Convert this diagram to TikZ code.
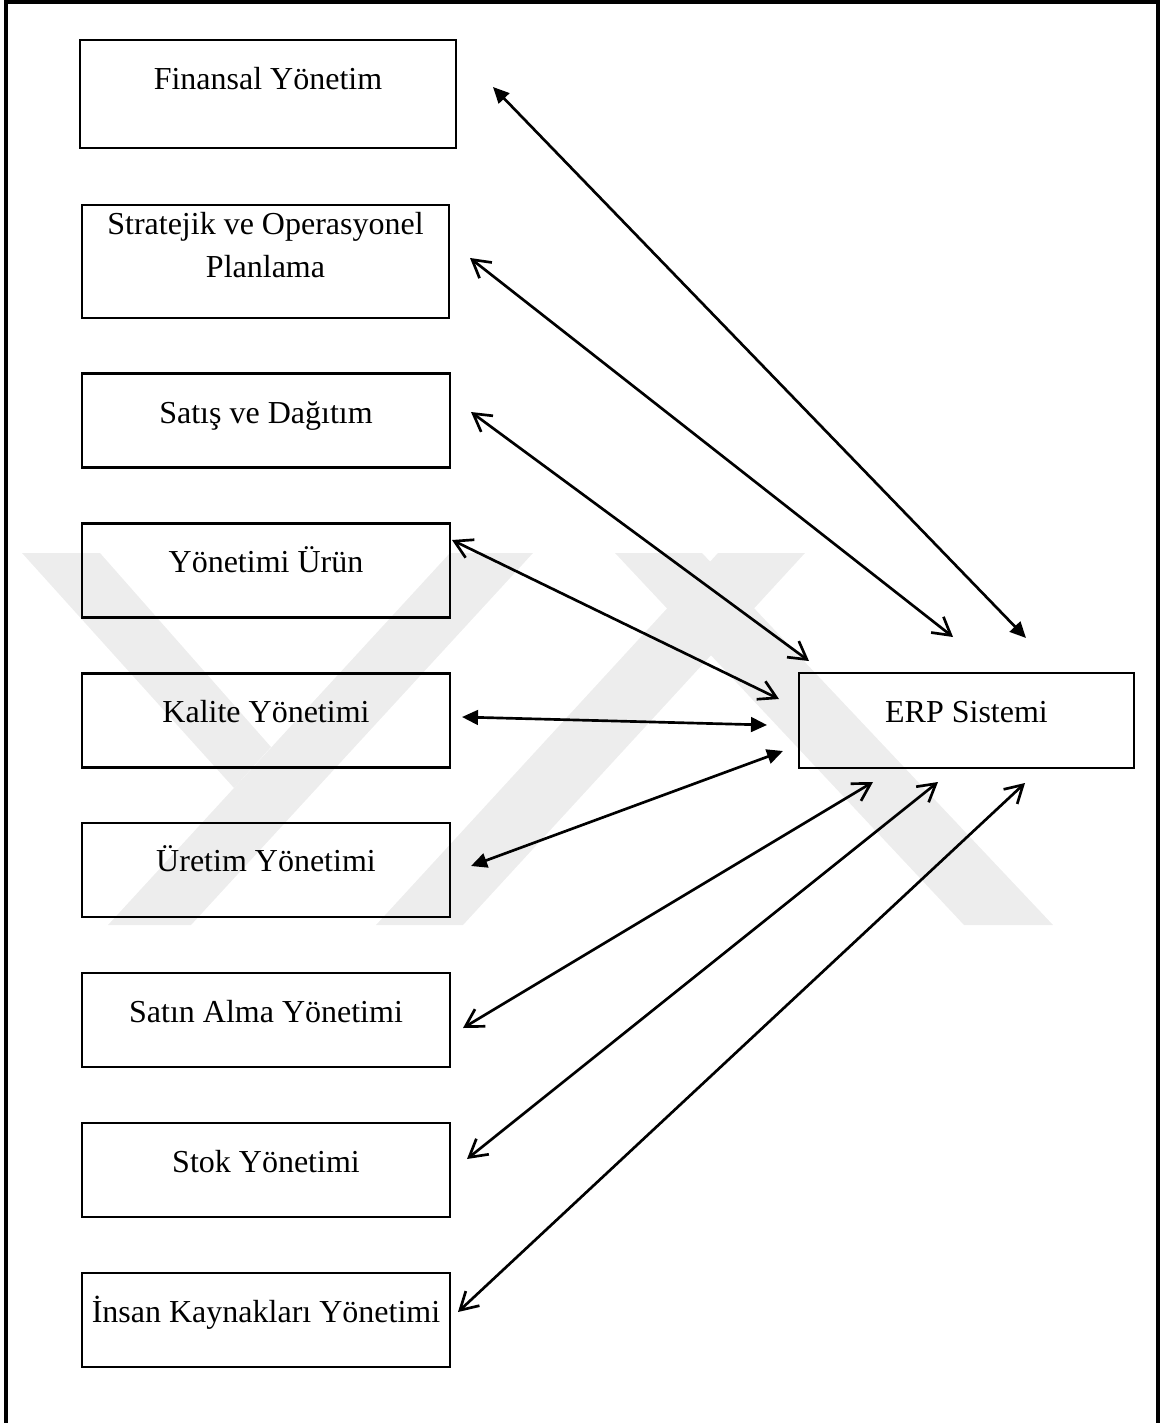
\documentclass[tikz,border=0pt]{standalone}
\usepackage{fontspec}
\setmainfont{Liberation Serif}
\usetikzlibrary{arrows.meta}
\begin{document}
\begin{tikzpicture}[x=0.75pt,y=-0.75pt,
  box/.style={draw=black, line width=1.8pt, rectangle, inner sep=0pt},
  stdbox/.style={box, minimum width=276pt, minimum height=70.5pt},
  lbl/.style={font=\fontsize{24}{30}\selectfont, anchor=base, inner sep=0pt},
  link/.style={line width=2pt},
  bothfilled/.style={link, arrows={Triangle[length=12pt,width=11pt]-Triangle[length=12pt,width=11pt]}},
  bothopen/.style={link, arrows={Straight Barb[length=13pt,width=15pt]-Straight Barb[length=13pt,width=15pt]}},
  wm/.style={fill=black!7, draw=none}]
\useasboundingbox (0,0) rectangle (1161,1423);
% watermark
\fill[wm] (22,553) -- (100,553) -- (271,747) -- (234,788) -- cycle;
\fill[wm] (450,553) -- (533,553) -- (191,925) -- (108,925) -- cycle;
\fill[wm] (718,553) -- (805,553) -- (463,925) -- (376,925) -- cycle;
\fill[wm] (615,553) -- (702,553) -- (1053,925) -- (964,925) -- cycle;
% outer frame
\draw[line width=2.6pt] (6,1423) -- (6,2) -- (1158,2) -- (1158,1423);
% boxes
\node[box, minimum width=282pt, minimum height=81pt] (fin) at (268,94) {};
\node[box, minimum width=275.25pt, minimum height=84.75pt] (str) at (265.5,261.5) {};
\node[stdbox] (sat) at (266,420.5) {};
\node[stdbox] (urun) at (266,570.5) {};
\node[stdbox] (kal) at (266,720.5) {};
\node[stdbox] (ure) at (266,870) {};
\node[stdbox] (satin) at (266,1020) {};
\node[stdbox] (stok) at (266,1170) {};
\node[stdbox] (ins) at (266,1320) {};
\node[box, minimum width=251.25pt, minimum height=71.25pt] (erp) at (966.5,720.5) {};
% labels
\node[lbl] (tfin) at (268,90) {Finansal Yönetim};
\node[lbl] (tstr1) at (265.5,235) {Stratejik ve Operasyonel};
\node[lbl] (tstr2) at (265.5,277) {Planlama};
\node[lbl] (tsat) at (266,423) {Satış ve Dağıtım};
\node[lbl] (turun) at (266,572) {Yönetimi Ürün};
\node[lbl] (tkal) at (266,722) {Kalite Yönetimi};
\node[lbl] (ture) at (266,871) {Üretim Yönetimi};
\node[lbl] (tsatin) at (266,1022) {Satın Alma Yönetimi};
\node[lbl] (tstok) at (266,1172) {Stok Yönetimi};
\node[lbl] (tins) at (266,1322) {İnsan Kaynakları Yönetimi};
\node[lbl] (terp) at (966.5,722) {ERP Sistemi};
% connector ends
\coordinate (finA) at (493,87);   \coordinate (finB) at (1026,638);
\coordinate (strA) at (470,258);  \coordinate (strB) at (953,637);
\coordinate (satA) at (471,412);  \coordinate (satB) at (809,661);
\coordinate (urunA) at (452,540); \coordinate (urunB) at (779,699);
\coordinate (kalA) at (462,717);  \coordinate (kalB) at (767,725);
\coordinate (ureA) at (471,866);  \coordinate (ureB) at (783,751);
\coordinate (satinA) at (463,1028); \coordinate (satinB) at (873,782);
\coordinate (stokA) at (467,1159);  \coordinate (stokB) at (938,782);
\coordinate (insA) at (458,1312);   \coordinate (insB) at (1025,783);
% connectors
\draw[bothfilled] (finA) -- (finB);
\draw[bothopen] (strA) -- (strB);
\draw[bothopen] (satA) -- (satB);
\draw[bothopen] (urunA) -- (urunB);
\draw[bothfilled] (kalA) -- (kalB);
\draw[bothfilled] (ureA) -- (ureB);
\draw[bothopen] (satinA) -- (satinB);
\draw[bothopen] (stokA) -- (stokB);
\draw[bothopen] (insA) -- (insB);
\end{tikzpicture}
\end{document}
